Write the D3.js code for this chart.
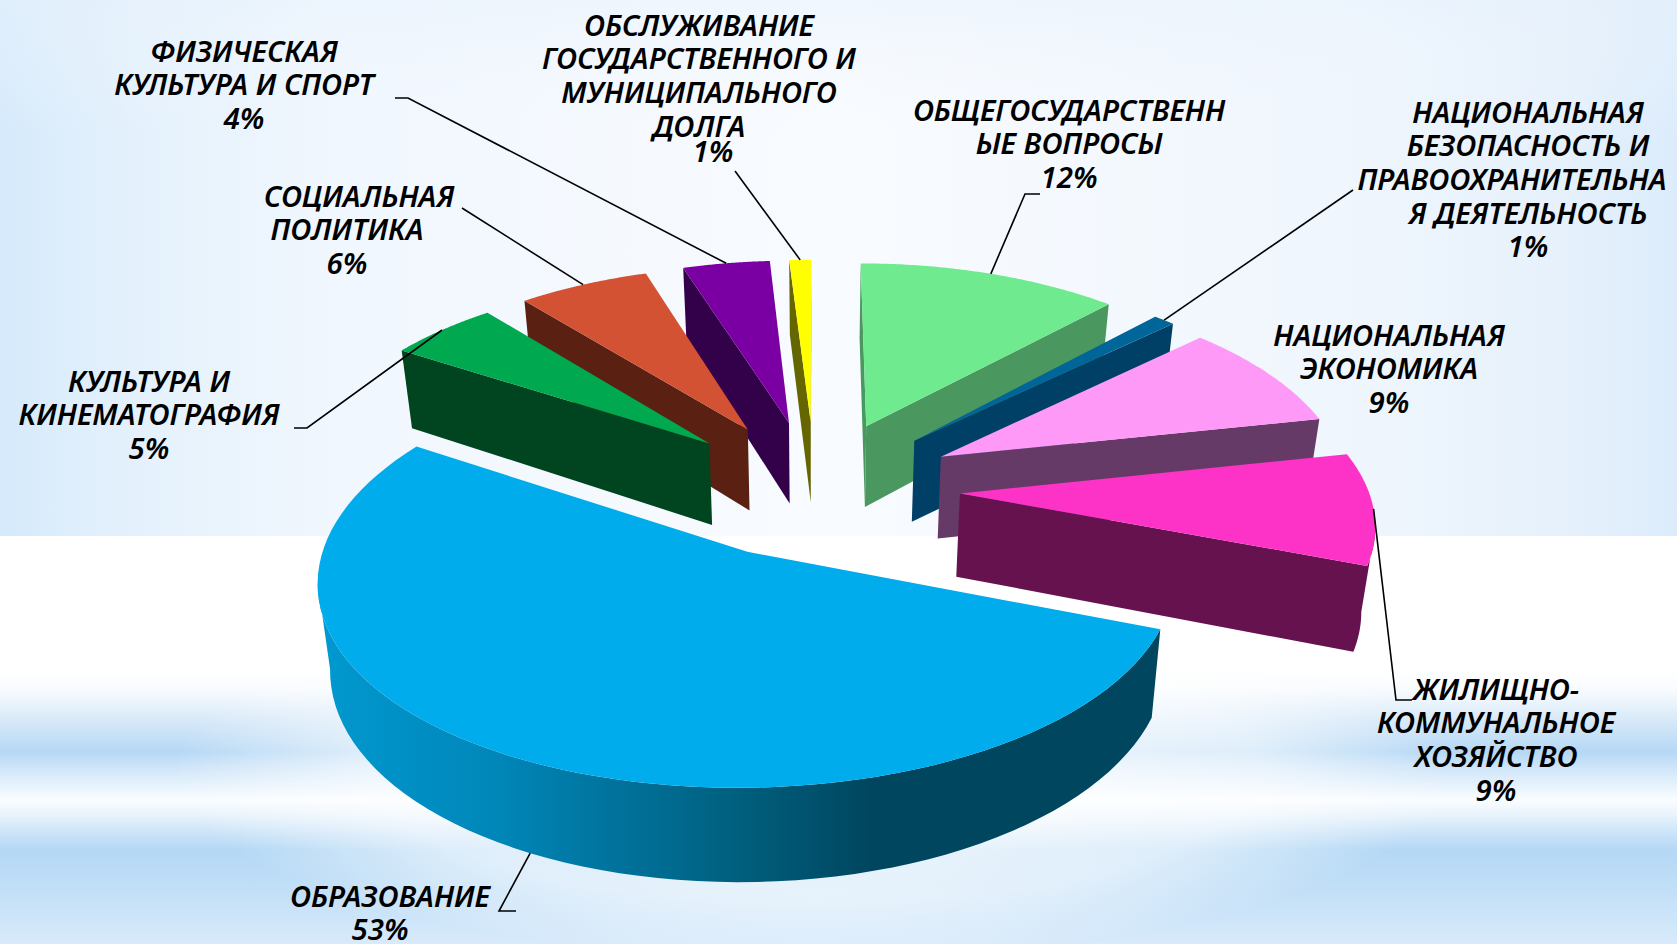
<!DOCTYPE html>
<html><head><meta charset="utf-8">
<script src="https://cdn.jsdelivr.net/npm/d3@7"></script>
<style>html,body{margin:0;padding:0;background:#fff;overflow:hidden}svg{display:block}</style>
</head><body><svg id="c" width="1677" height="944"></svg>
<script>
const categories=["ОБЩЕГОСУДАРСТВЕННЫЕ ВОПРОСЫ","НАЦИОНАЛЬНАЯ БЕЗОПАСНОСТЬ И ПРАВООХРАНИТЕЛЬНАЯ ДЕЯТЕЛЬНОСТЬ","НАЦИОНАЛЬНАЯ ЭКОНОМИКА","ЖИЛИЩНО-КОММУНАЛЬНОЕ ХОЗЯЙСТВО","ОБРАЗОВАНИЕ","КУЛЬТУРА И КИНЕМАТОГРАФИЯ","СОЦИАЛЬНАЯ ПОЛИТИКА","ФИЗИЧЕСКАЯ КУЛЬТУРА И СПОРТ","ОБСЛУЖИВАНИЕ ГОСУДАРСТВЕННОГО И МУНИЦИПАЛЬНОГО ДОЛГА"];
const values=[12,1,8.7,9.1,53.2,5,6,4,1];
const topColors=["#70ea8e","#006699","#ff99f8","#fd33c8","#00acec","#00a94f","#d35233","#7b00a3","#ffff00"];
const wallColors=["#4a9860","#003f66","#663a66","#66124f","#0090c4","#00451f","#5a2012","#33004a","#666600"];
const labelLines=[
 ["ОБЩЕГОСУДАРСТВЕНН","ЫЕ ВОПРОСЫ","12%"],
 ["НАЦИОНАЛЬНАЯ","БЕЗОПАСНОСТЬ И","ПРАВООХРАНИТЕЛЬНА","Я ДЕЯТЕЛЬНОСТЬ","1%"],
 ["НАЦИОНАЛЬНАЯ","ЭКОНОМИКА","9%"],
 ["ЖИЛИЩНО-","КОММУНАЛЬНОЕ","ХОЗЯЙСТВО","9%"],
 ["ОБРАЗОВАНИЕ","53%"],
 ["КУЛЬТУРА И","КИНЕМАТОГРАФИЯ","5%"],
 ["СОЦИАЛЬНАЯ","ПОЛИТИКА","6%"],
 ["ФИЗИЧЕСКАЯ","КУЛЬТУРА И СПОРТ","4%"],
 ["ОБСЛУЖИВАНИЕ","ГОСУДАРСТВЕННОГО И","МУНИЦИПАЛЬНОГО","ДОЛГА","1%"]];
const labelX=[1069,1528,1389,1496,390,149,353,244,699];
const labelY=[109,111,334,688,895,380,195,50,24];
const labelShift=[[],[0,0,-16,0,0],[],[],[0,-10],[],[6,-6,-6],[],[0,0,0,0,14]];
const labelRaise=[[],[],[],[],[],[],[],[],[0,0,0,0,8]];
const leaderElbow=[[[1025,194],[1040,194]],[[1353,190],[1353,190]],null,[[1396,700],[1412,700]],[[499,911],[516,911]],[[307,428],[294,428]],[[462,208],[462,208]],[[408,98],[395,98]],[[735,171],[735,171]]];

const W=1677,H=944, cx=815, cy=488, rxS=408, ryS=194, perspX=0.125, perspY=0.112, explode=0.355, depth=83, shrinkX=0.975, shrinkY=0.99;
const svg=d3.select("#c");
const defs=svg.append("defs");

function vgrad(id,stops,x1=0,x2=0,y1=0,y2=1){const g=defs.append("linearGradient").attr("id",id).attr("x1",x1).attr("x2",x2).attr("y1",y1).attr("y2",y2);
 stops.forEach(s=>g.append("stop").attr("offset",s[0]).attr("stop-color",s[1]).attr("stop-opacity",s[2]===undefined?1:s[2]));}
vgrad("bgTop",[[0,"#d6eafb"],[0.08,"#e4f1fc"],[0.2,"#f1f7fe"],[0.5,"#f8fbff"],[0.8,"#f0f6fd"],[0.93,"#e6f1fb"],[1,"#dcecfb"]],0,1,0,0);
vgrad("bgTopV",[[0,"#e8f2fc",.5],[0.25,"#f4f8fe",0],[1,"#f4f8fe",0]]);
const b=(y)=>(y-670)/274;
vgrad("bgBot",[[0,"#ffffff"],[b(690),"#f8fbfe"],[b(725),"#d2e6f8"],[b(752),"#b5d8f5"],[b(765),"#cbe3f8"],[b(785),"#e6f2fc"],[b(800),"#fafdff"],[b(815),"#e8f3fc"],[b(835),"#c8e2f8"],[b(850),"#b4d8f5"],[b(890),"#c2dff7"],[1,"#d8eafb"]]);
svg.append("rect").attr("width",W).attr("height",H).attr("fill","#fff");
svg.append("rect").attr("width",W).attr("height",536).attr("fill","url(#bgTop)");
svg.append("rect").attr("width",W).attr("height",536).attr("fill","url(#bgTopV)");
svg.append("rect").attr("y",670).attr("width",W).attr("height",274).attr("fill","url(#bgBot)");
const cg=defs.append("radialGradient").attr("id","bgGlow").attr("cx",.5).attr("cy",.5).attr("r",.5);
cg.append("stop").attr("offset",0).attr("stop-color","#fff").attr("stop-opacity",.9);
cg.append("stop").attr("offset",.7).attr("stop-color","#fff").attr("stop-opacity",.55);
cg.append("stop").attr("offset",1).attr("stop-color","#fff").attr("stop-opacity",0);
svg.append("ellipse").attr("cx",813).attr("cy",770).attr("rx",640).attr("ry",190).attr("fill","url(#bgGlow)");

const edu=defs.append("linearGradient").attr("id","eduWall").attr("gradientUnits","userSpaceOnUse").attr("x1",320).attr("x2",1160).attr("y1",0).attr("y2",0);
[[0,"#0099d0"],[.214,"#0086b8"],[.333,"#0075a0"],[.494,"#00607f"],[.655,"#00465f"],[1,"#00465f"]].forEach(s=>edu.append("stop").attr("offset",s[0]).attr("stop-color",s[1]));

const pie=d3.pie().value(d=>d).sort(null);
const arcs=pie(values);
function world(a,th,r=1){const m=(a.startAngle+a.endAngle)/2;
 return [explode*Math.sin(m)+r*Math.sin(th),-explode*Math.cos(m)-r*Math.cos(th)];}
const sx=d3.scaleLinear().domain([0,1]).range([cx,cx+rxS]);
const sy=d3.scaleLinear().domain([0,1]).range([cy,cy+ryS]);
function topPt(p){return [sx(p[0]/(1-perspX*p[1])),sy(p[1]/(1-perspY*p[1]))];}
function botPt(p){const w=1-perspY*p[1];const t=topPt(p);return [cx+(t[0]-cx)*shrinkX,cy+(t[1]-cy)*shrinkY+depth/w];}
const line=d3.line();
const order=d3.range(arcs.length).sort((i,j)=>world(arcs[i],0,0)[1]-world(arcs[j],0,0)[1]);
const gP=svg.append("g");
order.forEach(i=>{
 const a=arcs[i],g=gP.append("g");
 const ths=d3.range(0,81).map(k=>a.startAngle+(a.endAngle-a.startAngle)*k/80);
 const apex=world(a,0,0);
 const loop=[apex,...ths.map(t=>world(a,t)),apex];
 const fill=i===4?"url(#eduWall)":wallColors[i];
 let run=[];const runs=[];
 for(let k=0;k<loop.length-1;k++){
  const vis=topPt(loop[k+1])[0]-topPt(loop[k])[0]<0;
  if(vis){ if(!run.length) run.push(loop[k]); run.push(loop[k+1]); }
  else if(run.length){runs.push(run);run=[];}
 }
 if(run.length) runs.push(run);
 runs.forEach(r=>{
  const poly=[...r.map(topPt),...r.slice().reverse().map(botPt)];
  g.append("path").attr("d",line(poly)+"Z").attr("fill",fill);
 });
 g.append("path").attr("d",line(loop.map(topPt))+"Z").attr("fill",topColors[i]);
});

const gL=svg.append("g").attr("fill","none").attr("stroke","#000").attr("stroke-width",1.6);
arcs.forEach((a,i)=>{
 const e=leaderElbow[i]; if(!e) return;
 const m=(a.startAngle+a.endAngle)/2, p=world(a,m);
 const s=i===4?botPt(p):topPt(p);
 gL.append("path").attr("d",line([s,e[0],e[1]]));
});

const gT=svg.append("g").attr("font-family","'Noto Sans',sans-serif").attr("font-weight",600).attr("font-style","italic").attr("font-size",29.5).attr("fill","#000").attr("text-anchor","middle").attr("dominant-baseline","central");
labelLines.forEach((ls,i)=>{
 ls.forEach((t,k)=>gT.append("text").attr("x",labelX[i]+(labelShift[i][k]||0)).attr("y",labelY[i]+k*33.7-(labelRaise[i][k]||0)).text(t));
});
</script></body></html>
